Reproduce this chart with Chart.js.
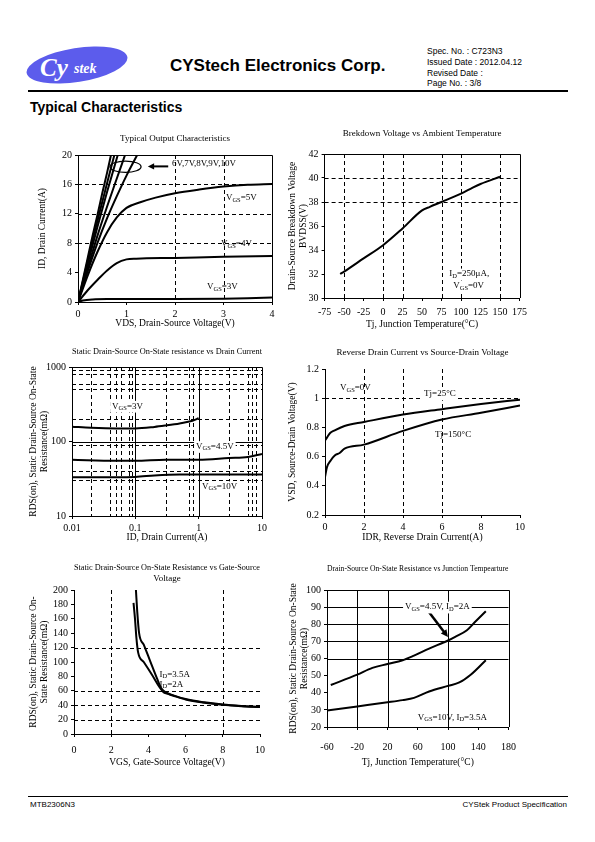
<!DOCTYPE html>
<html>
<head>
<meta charset="utf-8">
<script src="https://cdn.jsdelivr.net/npm/chart.js@4.4.1/dist/chart.umd.min.js"></script>
<style>
  body { margin: 0; width: 595px; height: 842px; position: relative; background: #fff; font-family: 'Liberation Sans', Arial, sans-serif; color: #000; }
  .abs { position: absolute; white-space: nowrap; }
  canvas { position: absolute; }
</style>
</head>
<body>

<svg class="abs" style="left:23px;top:41px" width="110" height="48">
  <ellipse cx="54" cy="24" rx="51" ry="17" transform="rotate(-9 54 24)" fill="#5c5cec"/>
  <text x="17" y="35" font-family="Liberation Serif" font-style="italic" font-weight="bold" font-size="25" fill="#fff">Cy</text>
  <text x="51" y="32" font-family="Liberation Serif" font-style="italic" font-weight="bold" font-size="14" fill="#fff">stek</text>
</svg>
<div class="abs" style="left:170px;top:56px;font-size:17px;font-weight:bold;">CYStech Electronics Corp.</div>
<div class="abs" style="left:427px;top:46px;font-size:8.5px;line-height:10.8px;">
  Spec. No. : C723N3<br>Issued Date : 2012.04.12<br>Revised Date :<br>Page No. : 3/8
</div>
<div class="abs" style="left:28px;top:90px;width:540px;height:1.5px;background:#000;"></div>
<div class="abs" style="left:30px;top:99px;font-size:14px;font-weight:bold;">Typical Characteristics</div>

<canvas id="c1" width="250" height="197" style="left:30px;top:133px"></canvas>
<canvas id="c2" width="249" height="203" style="left:283px;top:128px"></canvas>
<canvas id="c3" width="250" height="198" style="left:22px;top:346px"></canvas>
<canvas id="c4" width="247" height="197" style="left:283px;top:347px"></canvas>
<canvas id="c5" width="250" height="207" style="left:22px;top:562px"></canvas>
<canvas id="c6" width="245" height="206" style="left:282px;top:563px"></canvas>

<div class="abs" style="left:28px;top:796px;width:540px;height:1px;background:#000;"></div>
<div class="abs" style="left:30px;top:800px;font-size:8px;">MTB2306N3</div>
<div class="abs" style="right:28px;top:800px;font-size:8px;">CYStek Product Specification</div>

<script>
// Typical output characteristics: VDS (V) vs ID (A)
const OUT_VDS_3V = [0, 0.1, 0.3, 0.6, 1, 2, 3, 3.5, 4];
const OUT_ID_3V = [0, 0.2, 0.35, 0.4, 0.4, 0.4, 0.45, 0.5, 0.6];
const OUT_VDS_4V = [0, 0.2, 0.4, 0.6, 0.8, 1.0, 1.2, 2, 3, 4];
const OUT_ID_4V = [0, 1.6, 3.0, 4.3, 5.3, 5.8, 5.9, 6.0, 6.15, 6.25];
const OUT_VDS_5V = [0, 0.2, 0.4, 0.6, 0.8, 1.0, 1.3, 1.6, 2, 2.5, 3, 3.5, 4];
const OUT_ID_5V = [0, 3.6, 6.8, 9.5, 11.5, 12.8, 13.6, 14.2, 14.8, 15.3, 15.7, 15.95, 16.05];
const OUT_VDS_6V = [0, 0.1, 0.2, 0.4, 0.6, 0.8, 1.0, 1.22];
const OUT_ID_6V = [0, 2.2, 4.2, 8, 11.4, 14.4, 17.2, 20];
const OUT_VDS_7V = [0, 0.1, 0.2, 0.4, 0.6, 0.8, 0.97];
const OUT_ID_7V = [0, 2.4, 4.6, 9, 13, 16.8, 20];
const OUT_VDS_8V = [0, 0.1, 0.2, 0.4, 0.6, 0.82];
const OUT_ID_8V = [0, 2.6, 5.2, 10.2, 15, 20];
const OUT_VDS_9V = [0, 0.1, 0.2, 0.3, 0.4, 0.5, 0.6, 0.75];
const OUT_ID_9V = [0, 2.8, 5.6, 8.4, 11, 13.6, 16.2, 20];
const OUT_VDS_10V = [0, 0.1, 0.2, 0.3, 0.4, 0.5, 0.6, 0.68];
const OUT_ID_10V = [0, 3, 6, 9, 11.8, 14.8, 17.6, 20];

// Breakdown voltage vs temperature
const BV_TJ = [-55, -50, -25, 0, 25, 50, 60, 75, 100, 115, 125, 150];
const BV_V = [32.0, 32.2, 33.3, 34.4, 35.8, 37.3, 37.6, 38.0, 38.7, 39.2, 39.5, 40.1];

// RDS(on) vs drain current (log-log)
const RID_ID_3V = [0.01, 0.02, 0.05, 0.1, 0.2, 0.3, 0.5, 0.8, 1.0];
const RID_R_3V = [158, 153, 150, 150, 157, 164, 175, 190, 205];
const RID_ID_45V = [0.01, 0.05, 0.1, 0.3, 1, 3, 6, 10];
const RID_R_45V = [57, 55, 55, 57, 57, 60, 62, 68];
const RID_ID_10V = [0.01, 0.1, 0.2, 0.5, 1, 3, 10];
const RID_R_10V = [33, 33.5, 35, 36, 36, 36, 36];
const RID_X_TICKS = [0.01, 0.1, 1, 10];
const RID_Y_TICKS = [10, 100, 1000];

// Source-drain voltage vs reverse drain current
const SD_IDR_25 = [0, 0.1, 0.25, 0.5, 1, 2, 4, 6, 8, 10];
const SD_V_25 = [0.71, 0.73, 0.76, 0.78, 0.81, 0.837, 0.888, 0.925, 0.96, 0.99];
const SD_IDR_150 = [0, 0.1, 0.3, 0.5, 0.75, 1, 2, 4, 6, 8, 10];
const SD_V_150 = [0.46, 0.527, 0.575, 0.608, 0.625, 0.654, 0.682, 0.776, 0.854, 0.9, 0.95];

// RDS(on) vs gate-source voltage
const RG_VGS_A = [3.33, 3.4, 3.5, 3.75, 4.1, 4.45, 4.7, 5.0, 5.3, 6, 7, 8, 9, 10];
const RG_R_A = [200, 170, 140, 124, 101, 78, 63, 57, 54, 48.5, 44, 41, 39, 37.5];
const RG_VGS_B = [3.2, 3.28, 3.35, 3.45, 3.75, 4.2, 4.6, 4.8, 5.0, 5.3, 6, 7, 8, 9, 10];
const RG_R_B = [182, 160, 135, 113, 100, 82, 65, 58.5, 56, 53.5, 48, 43.5, 40.5, 38.5, 37.5];

// RDS(on) vs junction temperature
const RT_TJ_45 = [-55, -20, 0, 20, 40, 55, 75, 100, 110, 125, 135, 150];
const RT_R_45 = [44.5, 50.6, 54.5, 56.8, 59, 61.7, 65.8, 70.5, 72.8, 76.5, 81, 87.6];
const RT_TJ_10 = [-60, -20, 20, 40, 55, 75, 100, 115, 130, 150];
const RT_R_10 = [29.6, 32, 34.4, 35.7, 37, 40.7, 44, 46, 50.5, 59];

const SERIF = 'Liberation Serif';
Chart.defaults.font.family = SERIF;
Chart.defaults.color = '#000';
Chart.defaults.animation = false;

function pts(xs, ys) {
  return xs.map((x, i) => ({ x: x, y: ys[i] }));
}

function curve(xs, ys) {
  return {
    data: pts(xs, ys),
    borderColor: '#000',
    borderWidth: 2,
    pointRadius: 0,
    fill: false,
    cubicInterpolationMode: 'monotone'
  };
}

function fmt(v) {
  return String(+Number(v).toFixed(3));
}

function axis(o) {
  return {
    type: o.type || 'linear',
    min: o.min,
    max: o.max,
    afterFit: s => { if (s.isHorizontal()) s.height = o.size; else s.width = o.size; },
    afterBuildTicks: o.ticks ? s => { s.ticks = o.ticks.map(v => ({ value: v })); } : undefined,
    ticks: { stepSize: o.step, font: { size: 10 }, padding: o.tickPad == null ? 3 : o.tickPad,
             autoSkip: false, maxRotation: 0, callback: fmt },
    grid: { drawOnChartArea: false, drawTicks: true, tickLength: 3, tickColor: '#000', color: '#000' },
    border: { color: '#000', width: 1 },
    title: { display: true, text: o.title, font: { size: 9.5 }, padding: { top: o.titlePad, bottom: o.titlePad } }
  };
}

// text with {subscript} parts
function rich(ctx, x, y, text, size, align, bg) {
  const parts = text.split(/(\{[^}]*\})/).filter(Boolean)
    .map(p => p[0] === '{' ? { t: p.slice(1, -1), s: size * 0.72, dy: size * 0.22 } : { t: p, s: size, dy: 0 });
  let w = 0;
  parts.forEach(p => { ctx.font = p.s + 'px "' + SERIF + '"'; p.w = ctx.measureText(p.t).width; w += p.w; });
  let cx = align === 'center' ? x - w / 2 : x;
  if (bg) {
    ctx.fillStyle = '#fff';
    ctx.fillRect(cx - 2, y - size * 0.6, w + 4, size * 1.3);
  }
  ctx.fillStyle = '#000';
  ctx.textBaseline = 'middle';
  ctx.textAlign = 'left';
  parts.forEach(p => { ctx.font = p.s + 'px "' + SERIF + '"'; ctx.fillText(p.t, cx, y + p.dy); cx += p.w; });
}

function arrow(ctx, x1, y1, x2, y2, lw, head) {
  const a = Math.atan2(y2 - y1, x2 - x1);
  ctx.lineWidth = lw;
  ctx.beginPath();
  ctx.moveTo(x1, y1);
  ctx.lineTo(x2 - Math.cos(a) * head * 0.8, y2 - Math.sin(a) * head * 0.8);
  ctx.stroke();
  ctx.beginPath();
  ctx.moveTo(x2, y2);
  ctx.lineTo(x2 - head * Math.cos(a - 0.45), y2 - head * Math.sin(a - 0.45));
  ctx.lineTo(x2 - head * Math.cos(a + 0.45), y2 - head * Math.sin(a + 0.45));
  ctx.closePath();
  ctx.fill();
}

// grid lines, box and notes drawn through the chart's scales
function decor(spec) {
  return {
    id: 'decor',
    beforeDatasetsDraw(chart) {
      const { ctx, chartArea: a, scales: { x, y } } = chart;
      ctx.save();
      ctx.strokeStyle = '#000';
      ctx.lineWidth = 1;
      const v = (val, dash) => {
        const p = Math.round(x.getPixelForValue(val)) + 0.5;
        ctx.setLineDash(dash); ctx.beginPath(); ctx.moveTo(p, a.top); ctx.lineTo(p, a.bottom); ctx.stroke();
      };
      const h = (val, dash) => {
        const p = Math.round(y.getPixelForValue(val)) + 0.5;
        ctx.setLineDash(dash); ctx.beginPath(); ctx.moveTo(a.left, p); ctx.lineTo(a.right, p); ctx.stroke();
      };
      (spec.gx || []).forEach(t => v(t, [4, 3]));
      (spec.gy || []).forEach(t => h(t, [4, 3]));
      (spec.sx || []).forEach(t => v(t, []));
      (spec.sy || []).forEach(t => h(t, []));
      if (spec.box) {
        ctx.setLineDash([]);
        ctx.beginPath();
        ctx.moveTo(a.left, Math.round(a.top) + 0.5); ctx.lineTo(Math.round(a.right) + 0.5, Math.round(a.top) + 0.5);
        ctx.lineTo(Math.round(a.right) + 0.5, a.bottom);
        ctx.stroke();
      }
      ctx.restore();
    },
    afterDatasetsDraw(chart) {
      const { ctx, scales: { x, y } } = chart;
      ctx.save();
      ctx.strokeStyle = '#000';
      ctx.fillStyle = '#000';
      if (spec.ellipse) {
        const e = spec.ellipse;
        const cx = x.getPixelForValue(e.x), cy = y.getPixelForValue(e.y);
        const rx = Math.abs(x.getPixelForValue(e.x + e.rx) - cx), ry = Math.abs(y.getPixelForValue(e.y + e.ry) - cy);
        ctx.lineWidth = 1.3;
        ctx.beginPath(); ctx.ellipse(cx, cy, rx, ry, 0, 0, Math.PI * 2); ctx.stroke();
      }
      (spec.arrows || []).forEach(r => {
        arrow(ctx, x.getPixelForValue(r.x1), y.getPixelForValue(r.y1),
              x.getPixelForValue(r.x2), y.getPixelForValue(r.y2), r.lw, r.head);
      });
      (spec.notes || []).forEach(n => {
        rich(ctx, x.getPixelForValue(n.x), y.getPixelForValue(n.y), n.text, 9, n.align || 'left', n.bg);
      });
      ctx.restore();
    }
  };
}

function makeChart(id, c) {
  return new Chart(document.getElementById(id), {
    type: 'line',
    data: { datasets: c.datasets },
    options: {
      responsive: false,
      devicePixelRatio: 1,
      layout: { padding: { left: 0, right: c.padRight, top: 0, bottom: 0 } },
      scales: { x: c.x, y: c.y },
      plugins: {
        legend: { display: false },
        tooltip: { enabled: false },
        title: { display: true, text: c.title, fullSize: false, font: { size: 9, weight: 'normal' },
                 padding: { top: 0, bottom: c.titleGap } }
      }
    },
    plugins: [decor(c.decor)]
  });
}

makeChart('c1', {
  title: 'Typical Output Characteristics', titleGap: 11.2, padRight: 8,
  x: axis({ min: 0, max: 4, step: 1, size: 28, title: 'VDS, Drain-Source Voltage(V)', titlePad: 1.3 }),
  y: axis({ min: 0, max: 20, step: 4, size: 48, title: 'ID, Drain Current(A)', titlePad: 6.3 }),
  datasets: [
    curve(OUT_VDS_3V, OUT_ID_3V), curve(OUT_VDS_4V, OUT_ID_4V), curve(OUT_VDS_5V, OUT_ID_5V),
    curve(OUT_VDS_6V, OUT_ID_6V), curve(OUT_VDS_7V, OUT_ID_7V), curve(OUT_VDS_8V, OUT_ID_8V),
    curve(OUT_VDS_9V, OUT_ID_9V), curve(OUT_VDS_10V, OUT_ID_10V)
  ],
  decor: {
    gx: [2, 3], gy: [8, 12, 16], box: true,
    ellipse: { x: 0.98, y: 18.4, rx: 0.32, ry: 0.77 },
    arrows: [{ x1: 1.86, y1: 18.45, x2: 1.44, y2: 18.45, lw: 2, head: 7 }],
    notes: [
      { x: 1.94, y: 18.8, text: '6V,7V,8V,9V,10V' },
      { x: 3.05, y: 14.15, text: 'V{GS}=5V' },
      { x: 2.95, y: 7.9, text: 'V{GS}=4V' },
      { x: 2.66, y: 2.04, text: 'V{GS}=3V' }
    ]
  }
});

makeChart('c2', {
  title: 'Brekdown Voltage vs Ambient Temperature', titleGap: 15.2, padRight: 9.4,
  x: axis({ min: -75, max: 175, step: 25, size: 33, tickPad: 5, title: 'Tj, Junction Temperature(°C)', titlePad: 1.3 }),
  y: axis({ min: 30, max: 42, step: 2, size: 41.6, title: ['Drain-Source Breakdown Voltage', 'BVDSS(V)'], titlePad: 3.3 }),
  datasets: [curve(BV_TJ, BV_V)],
  decor: {
    gx: [-50, 0, 25, 75, 100, 150], gy: [38, 40], box: true,
    notes: [
      { x: 85, y: 32.0, text: 'I{D}=250μA,', bg: true },
      { x: 90, y: 31.0, text: 'V{GS}=0V', bg: true }
    ]
  }
});

makeChart('c3', {
  title: 'Static Drain-Source On-State resistance vs Drain Current', titleGap: 10.2, padRight: 10,
  x: axis({ type: 'logarithmic', min: 0.01, max: 10, ticks: RID_X_TICKS, size: 28, title: 'ID, Drain Current(A)', titlePad: 1.3 }),
  y: axis({ type: 'logarithmic', min: 10, max: 1000, ticks: RID_Y_TICKS, size: 50,
            title: ['RDS(on), Static Drain-Source On-State', 'Resistance(mΩ)'], titlePad: 5.3 }),
  datasets: [curve(RID_ID_3V, RID_R_3V), curve(RID_ID_45V, RID_R_45V), curve(RID_ID_10V, RID_R_10V)],
  decor: {
    gx: [0.02, 0.04, 0.05, 0.06, 0.08, 0.09, 0.3, 0.7, 0.8, 3, 6, 7, 8],
    gy: [30, 40, 90, 200, 500, 600, 800, 900],
    sx: [0.1, 1], sy: [100], box: true,
    notes: [
      { x: 0.043, y: 297, text: 'V{GS}=3V', bg: true },
      { x: 0.91, y: 85.5, text: 'V{GS}=4.5V', bg: true },
      { x: 1.13, y: 24.7, text: 'V{GS}=10V', bg: true }
    ]
  }
});

makeChart('c4', {
  title: 'Reverse Drain Current vs Source-Drain Voltage', titleGap: 11.2, padRight: 10,
  x: axis({ min: 0, max: 10, step: 2, size: 29, title: 'IDR, Reverse Drain Current(A)', titlePad: 1.3 }),
  y: axis({ min: 0.2, max: 1.2, step: 0.2, size: 42, title: 'VSD, Source-Drain Voltage(V)', titlePad: 3.3 }),
  datasets: [curve(SD_IDR_25, SD_V_25), curve(SD_IDR_150, SD_V_150)],
  decor: {
    gx: [2, 4, 6], gy: [1],
    notes: [
      { x: 0.77, y: 1.07, text: 'V{GS}=0V' },
      { x: 5.08, y: 1.029, text: 'Tj=25°C', bg: true },
      { x: 5.64, y: 0.748, text: 'Tj=150°C' }
    ]
  }
});

makeChart('c5', {
  title: ['Static Drain-Source On-State Resistance vs Gate-Source', 'Voltage'], titleGap: 6.4, padRight: 9.5,
  x: axis({ min: 0, max: 10, step: 2, size: 35, tickPad: 7, title: 'VGS, Gate-Source Voltage(V)', titlePad: 1.3 }),
  y: axis({ min: 0, max: 200, step: 20, size: 52, title: ['RDS(on), Static Drain-Source On-', 'State Resistance(mΩ)'], titlePad: 5.3 }),
  datasets: [curve(RG_VGS_A, RG_R_A), curve(RG_VGS_B, RG_R_B)],
  decor: {
    gx: [2, 8], gy: [20, 40, 60, 120],
    notes: [
      { x: 4.6, y: 83, text: 'I{D}=3.5A' },
      { x: 4.6, y: 68.5, text: 'I{D}=2A' }
    ]
  }
});

makeChart('c6', {
  title: 'Drain-Source On-State Resistance vs Junction Tempearture', titleGap: 16.2, padRight: 11,
  x: axis({ min: -60, max: 180, step: 40, size: 42, tickPad: 11, title: 'Tj, Junction Temperature(°C)', titlePad: 1.3 }),
  y: axis({ min: 20, max: 100, step: 10, size: 45, title: ['RDS(on), Static Drain-Source On-State', 'Resistance(mΩ)'], titlePad: 5.3 }),
  datasets: [curve(RT_TJ_45, RT_R_45), curve(RT_TJ_10, RT_R_10)],
  decor: {
    sx: [-20, 20, 100], sy: [60, 70, 80, 90], box: true,
    arrows: [{ x1: 75, y1: 87, x2: 100, y2: 72.5, lw: 2.5, head: 8 }],
    notes: [
      { x: 86, y: 90, text: 'V{GS}=4.5V, I{D}=2A', align: 'center', bg: true },
      { x: 105.7, y: 25.4, text: 'V{GS}=10V, I{D}=3.5A', align: 'center' }
    ]
  }
});
</script>
</body>
</html>
